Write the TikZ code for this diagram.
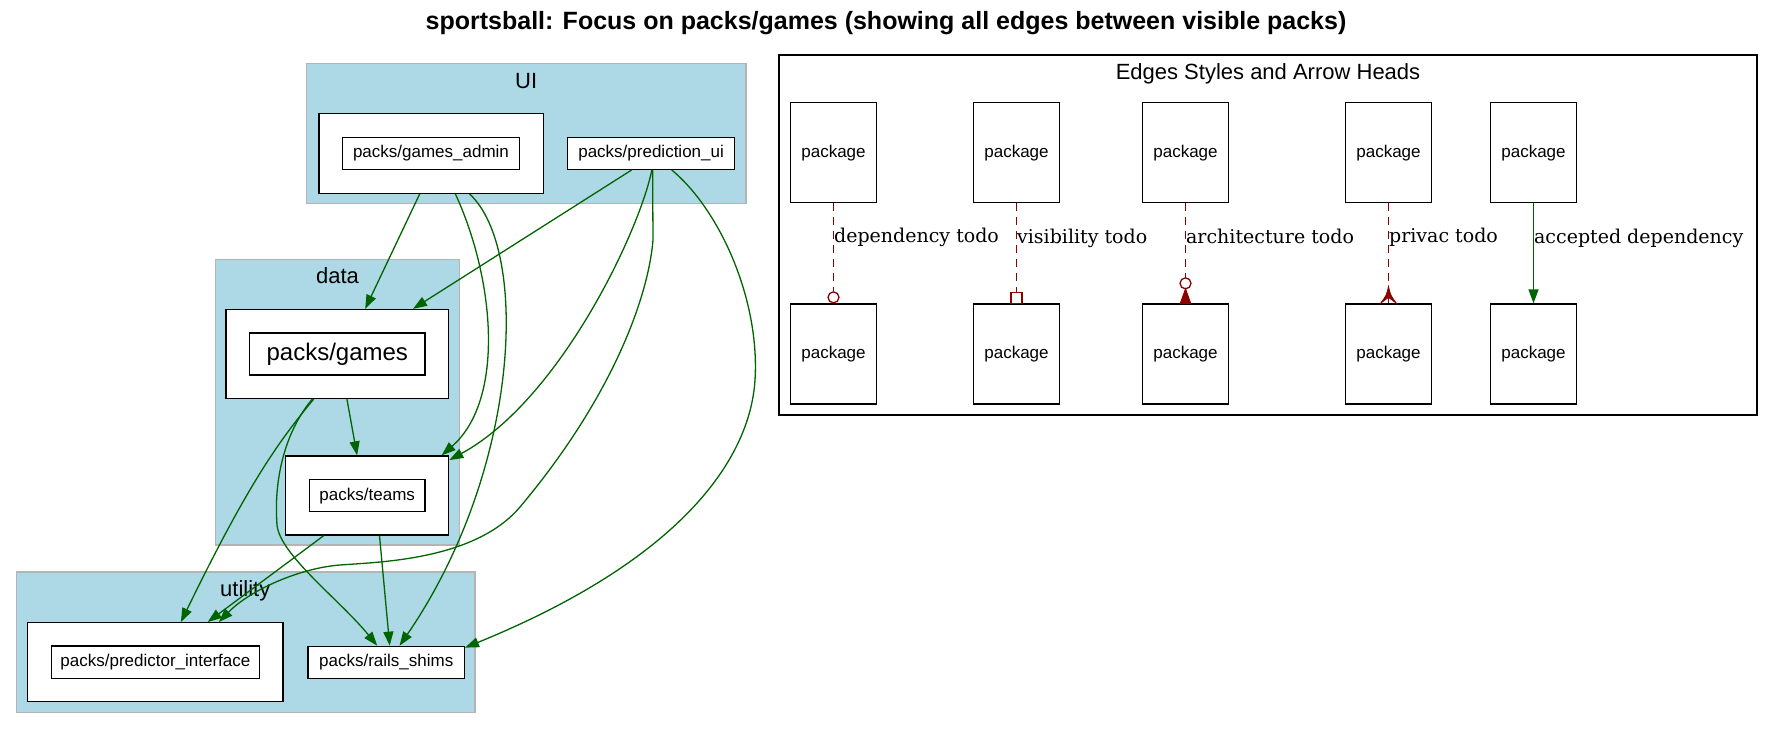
\documentclass[tikz,border=0pt]{standalone}
\usepackage{fontspec}
\setmainfont{DejaVu Serif}
\newfontfamily\arial{Liberation Sans}
\usepackage{tikz}
\usetikzlibrary{arrows.meta}
\definecolor{clusterblue}{HTML}{ADD8E6}
\definecolor{clusterline}{HTML}{B4B4B4}
\definecolor{depgreen}{HTML}{006400}
\definecolor{todored}{HTML}{8B0000}

\begin{document}
\begin{tikzpicture}[x=1pt, y=-1pt,
    cluster/.style={draw=clusterline, fill=clusterblue, line width=1.3pt, inner sep=0},
    box/.style={draw, fill=white, line width=1.3pt, inner sep=0},
    pkg/.style={box, font=\arial\fontsize{17}{20}\selectfont},
    clbl/.style={font=\arial\fontsize{22}{26}\selectfont, anchor=base, inner sep=0},
    dep/.style={draw=depgreen, line width=1.3pt, -{Triangle[length=14pt, width=10pt]}},
    todo/.style={draw=todored, line width=1.3pt, dash pattern=on 8pt off 6pt},
    todotip/.style={draw=todored, fill=todored, line width=1.3pt},
    elbl/.style={font=\fontsize{19}{22}\selectfont, anchor=base west, inner sep=0}]
    \useasboundingbox (0, 0) rectangle (1775, 729);
    \node (title) [font=\arial\bfseries\fontsize{25}{30}\selectfont, anchor=base, inner sep=0] at (886, 29.3)
        {sportsball: Focus on packs/games (showing all edges between visible packs)};
    % clusters
    \node (ui) [cluster, minimum width=439.7pt, minimum height=140pt] at (526.2, 133.3) {};
    \node (data) [cluster, minimum width=244.5pt, minimum height=285.3pt] at (337.5, 402.4) {};
    \node (util) [cluster, minimum width=458.5pt, minimum height=140.3pt] at (245.8, 642.2) {};
    \node (uilbl) [clbl] at (526.2, 88.3) {UI};
    \node (datalbl) [clbl] at (337.5, 283.3) {data};
    \node (utillbl) [clbl] at (245.3, 596.7) {utility};
    % packages
    \node (adminbox) [box, minimum width=224.3pt, minimum height=80pt] at (431.2, 153.3) {};
    \node (admin) [pkg, minimum width=177.2pt, minimum height=32pt] at (431.0, 153.3) {packs/games\_admin};
    \node (predui) [pkg, minimum width=167.2pt, minimum height=32pt] at (651.1, 153.3) {packs/prediction\_ui};
    \node (gamesbox) [box, minimum width=222.8pt, minimum height=88.8pt] at (337.3, 353.9) {};
    \node (games) [pkg, font=\arial\fontsize{24}{28}\selectfont, minimum width=175.4pt, minimum height=42pt] at (337.3, 354.0) {packs/games};
    \node (teamsbox) [box, minimum width=163pt, minimum height=79pt] at (367.2, 495.5) {};
    \node (teams) [pkg, minimum width=115.6pt, minimum height=32pt] at (367.2, 495.7) {packs/teams};
    \node (pibox) [box, minimum width=255.3pt, minimum height=79pt] at (155.4, 662.2) {};
    \node (pi) [pkg, minimum width=208.1pt, minimum height=32.3pt] at (155.4, 662.2) {packs/predictor\_interface};
    \node (shims) [pkg, minimum width=156.3pt, minimum height=32pt] at (386.2, 662.3) {packs/rails\_shims};
    % dependencies
    \draw [dep] ([xshift=-11.5pt]adminbox.south) -- ([xshift=27.9pt]gamesbox.north);
    \draw [dep] ([xshift=-19.4pt]predui.south) -- ([xshift=75.7pt]gamesbox.north);
    \draw [dep] ([xshift=24.2pt]adminbox.south) .. controls (495, 280) and (505, 400) .. ([xshift=74.5pt]teamsbox.north);
    \draw [dep] ([xshift=38.4pt]adminbox.south) .. controls (530, 250) and (520, 470) .. ([xshift=13.4pt]shims.north);
    \draw [dep] ([xshift=0.7pt]predui.south) .. controls (640, 230) and (560, 400) .. ([yshift=-4.7pt]teamsbox.north east);
    \draw [dep] ([xshift=1.5pt]predui.south) -- (653, 240) .. controls (648, 300) and (610, 400) .. (520, 507)
        .. controls (475, 560) and (380, 562) .. (340, 565) .. controls (300, 568) and (250, 590) .. ([xshift=63.5pt]pibox.north);
    \draw [dep] ([xshift=20.6pt]predui.south) .. controls (720, 210) and (760, 300) .. (755, 380)
        .. controls (750, 460) and (680, 560) .. ([yshift=-2pt]shims.north east);
    \draw [dep] ([xshift=9.6pt]gamesbox.south) -- ([xshift=-10.1pt]teamsbox.north);
    \draw [dep] ([xshift=-23.5pt]gamesbox.south) .. controls (280, 440) and (250, 480) .. ([xshift=25.5pt]pibox.north);
    \draw [dep] ([xshift=-24.8pt]gamesbox.south) .. controls (290, 425) and (273, 470) .. (277, 525)
        .. controls (280, 555) and (340, 600) .. ([xshift=-9pt]shims.north);
    \draw [dep] ([xshift=-43.5pt]teamsbox.south) -- ([xshift=52.3pt]pibox.north);
    \draw [dep] ([xshift=12.3pt]teamsbox.south) -- ([xshift=3.5pt]shims.north);
    % legend
    \node (legend) [draw, line width=1.3pt, inner sep=0, minimum width=978pt, minimum height=360pt] at (1268, 235) {};
    \node (legendlbl) [clbl] at (1268, 79.3) {Edges Styles and Arrow Heads};
    \node (p1) [pkg, minimum width=86.5pt, minimum height=100pt] at (833.5, 152.7) {package};
    \node (p2) [pkg, minimum width=86.5pt, minimum height=100pt] at (1016.5, 152.7) {package};
    \node (p3) [pkg, minimum width=86.5pt, minimum height=100pt] at (1185.5, 152.7) {package};
    \node (p4) [pkg, minimum width=86.5pt, minimum height=100pt] at (1388.5, 152.7) {package};
    \node (p5) [pkg, minimum width=86.5pt, minimum height=100pt] at (1533.5, 152.7) {package};
    \node (q1) [pkg, minimum width=86.5pt, minimum height=100pt] at (833.5, 354.0) {package};
    \node (q2) [pkg, minimum width=86.5pt, minimum height=100pt] at (1016.5, 354.0) {package};
    \node (q3) [pkg, minimum width=86.5pt, minimum height=100pt] at (1185.5, 354.0) {package};
    \node (q4) [pkg, minimum width=86.5pt, minimum height=100pt] at (1388.5, 354.0) {package};
    \node (q5) [pkg, minimum width=86.5pt, minimum height=100pt] at (1533.5, 354.0) {package};
    \draw [todo] (p1) -- node [elbl, pos=0.45] {dependency todo} ([yshift=12pt]q1.north);
    \draw [todotip, fill=white] ([yshift=6pt]q1.north) circle [radius=5.5pt];
    \draw [todo] (p2) -- node [elbl, pos=0.45] {visibility todo} ([yshift=11pt]q2.north);
    \draw [todotip, fill=white] ([xshift=-5.5pt]q2.north) rectangle ([xshift=5.5pt, yshift=11pt]q2.north);
    \draw [todo] (p3) -- node [elbl, pos=0.53] {architecture todo} ([yshift=25pt]q3.north);
    \draw [todotip, fill=white] ([yshift=20pt]q3.north) circle [radius=5.5pt];
    \draw [todotip] ([yshift=14pt]q3.north) -- ([xshift=-5pt]q3.north) -- ([xshift=5pt]q3.north) -- cycle;
    \draw [todo] (p4) -- node [elbl, pos=0.47] {privac todo} ([yshift=16pt]q4.north);
    \draw [todotip, line width=0.8pt] ([yshift=17pt]q4.north) .. controls ([xshift=-2pt, yshift=8pt]q4.north) .. ([xshift=-8pt]q4.north)
        -- ([yshift=6pt]q4.north) -- ([xshift=8pt]q4.north) .. controls ([xshift=2pt, yshift=8pt]q4.north) .. cycle;
    \draw [todotip, line width=1.3pt] ([yshift=6pt]q4.north) -- (q4.north);
    \draw [dep] (p5) -- node [elbl, pos=0.4] {accepted dependency} (q5);
\end{tikzpicture}
\end{document}
